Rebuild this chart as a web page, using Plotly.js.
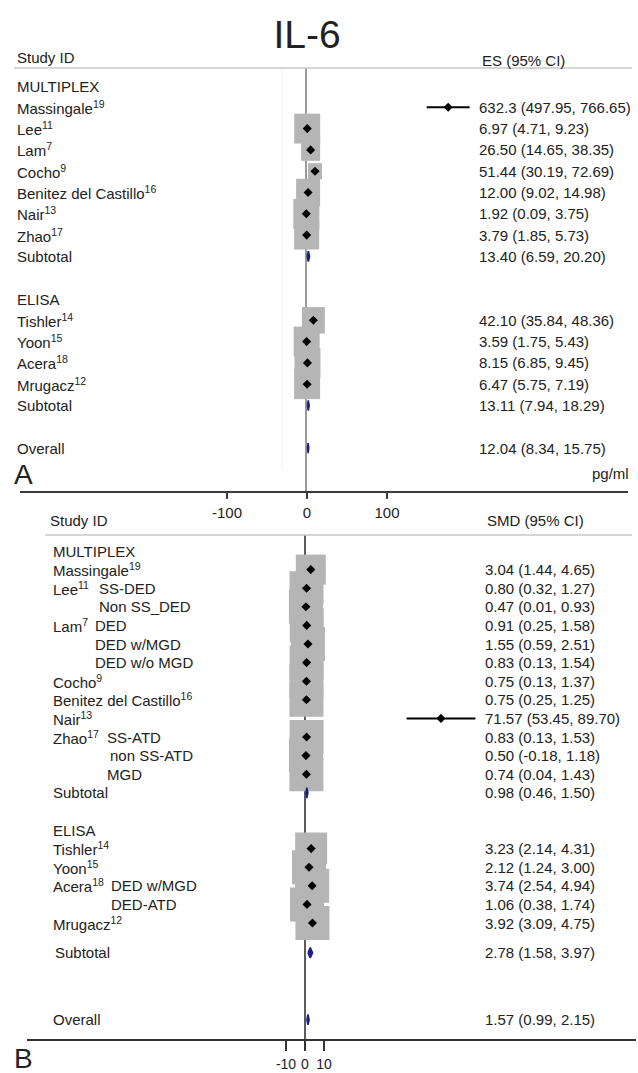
<!DOCTYPE html>
<html><head><meta charset="utf-8">
<script src="https://cdn.plot.ly/plotly-3.0.1.min.js"></script>
<style>html,body{margin:0;padding:0;background:#fff}#chart{width:638px;height:1073px}</style>
</head><body><div id="chart"></div>
<script>
// ================= DATA =================
// Panel A: IL-6 concentration, ES (95% CI), pg/ml
const studiesA_multiplex = ["Massingale<sup>19</sup>","Lee<sup>11</sup>","Lam<sup>7</sup>","Cocho<sup>9</sup>","Benitez del Castillo<sup>16</sup>","Nair<sup>13</sup>","Zhao<sup>17</sup>"];
const esA_multiplex = ["632.3","6.97","26.50","51.44","12.00","1.92","3.79"];
const loA_multiplex = ["497.95","4.71","14.65","30.19","9.02","0.09","1.85"];
const hiA_multiplex = ["766.65","9.23","38.35","72.69","14.98","3.75","5.73"];
const weightA_multiplex = [0, 26, 19, 14, 24, 26, 25];
const subtotalA_multiplex = ["13.40","6.59","20.20"];
const studiesA_elisa = ["Tishler<sup>14</sup>","Yoon<sup>15</sup>","Acera<sup>18</sup>","Mrugacz<sup>12</sup>"];
const esA_elisa = ["42.10","3.59","8.15","6.47"];
const loA_elisa = ["35.84","1.75","6.85","5.75"];
const hiA_elisa = ["48.36","5.43","9.45","7.19"];
const weightA_elisa = [23, 26, 26, 26];
const subtotalA_elisa = ["13.11","7.94","18.29"];
const overallA = ["12.04","8.34","15.75"];
const ticksA = [-100, 0, 100];

// Panel B: SMD (95% CI)
const studiesB_multiplex = ["Massingale<sup>19</sup>","Lee<sup>11</sup>","","Lam<sup>7</sup>","","","Cocho<sup>9</sup>","Benitez del Castillo<sup>16</sup>","Nair<sup>13</sup>","Zhao<sup>17</sup>","",""];
const subgroupsB_multiplex = ["","SS-DED","Non SS_DED","DED","DED w/MGD","DED w/o MGD","","","","SS-ATD","non SS-ATD","MGD"];
const esB_multiplex = ["3.04","0.80","0.47","0.91","1.55","0.83","0.75","0.75","71.57","0.83","0.50","0.74"];
const loB_multiplex = ["1.44","0.32","0.01","0.25","0.59","0.13","0.13","0.25","53.45","0.13","-0.18","0.04"];
const hiB_multiplex = ["4.65","1.27","0.93","1.58","2.51","1.54","1.37","1.25","89.70","1.53","1.18","1.43"];
const weightB_multiplex = [30, 34, 34, 34, 34, 34, 34, 34, 0, 34, 34, 34];
const subtotalB_multiplex = ["0.98","0.46","1.50"];
const studiesB_elisa = ["Tishler<sup>14</sup>","Yoon<sup>15</sup>","Acera<sup>18</sup>","","Mrugacz<sup>12</sup>"];
const subgroupsB_elisa = ["","","DED w/MGD","DED-ATD",""];
const esB_elisa = ["3.23","2.12","3.74","1.06","3.92"];
const loB_elisa = ["2.14","1.24","2.54","0.38","3.09"];
const hiB_elisa = ["4.31","3.00","4.94","1.74","4.75"];
const weightB_elisa = [32, 34, 34, 34, 34];
const subtotalB_elisa = ["2.78","1.58","3.97"];
const overallB = ["1.57","0.99","2.15"];
const ticksB = [-10, 0, 10];

// ================= LAYOUT GEOMETRY =================
const W = 638, H = 1073;
const px = x => x / W;
const py = y => 1 - y / H;
const FONT = "Liberation Sans, Arial, Helvetica, sans-serif";
const TXT = "#222";

const A = {top: 68, bot: 491, row0: 86, step: 21.3};
const B = {top: 535, bot: 1039, row0: 551, step: 18.6};
const rowsA = {mHead: 0, mStart: 1, mSub: 8, eHead: 10, eStart: 11, eSub: 15, overall: 17};
const rowsB = {mHead: 0, mStart: 1, mSub: 13, eHead: 15, eStart: 16, eSub: 21.6, overall: 25.2};
const subIndentB_multiplex = [0, 97, 97, 93, 93, 93, 0, 0, 0, 105, 108, 105];
const subIndentB_elisa = [0, 0, 109, 109, 0];

const traces = [];
const shapes = [];
const ann = [];

function txt(x, yref, y, text, opts) {
  ann.push(Object.assign({xref: 'paper', yref: yref, x: px(x), y: y, text: text, showarrow: false,
    xanchor: 'left', yanchor: 'middle', font: {family: FONT, size: 15, color: TXT}}, opts || {}));
}
function ciText(e, l, h) { return e + " (" + l + ", " + h + ")"; }

function studyMarks(xa, ya, es, lo, hi, rows, lw) {
  const lx = [], ly = [];
  es.forEach((e, i) => { lx.push(+lo[i], +hi[i], null); ly.push(rows[i], rows[i], null); });
  traces.push({type: 'scatter', mode: 'lines', x: lx, y: ly, xaxis: xa, yaxis: ya,
    line: {color: '#000', width: lw}, hoverinfo: 'skip', showlegend: false});
  traces.push({type: 'scatter', mode: 'markers', x: es.map(Number), y: rows, xaxis: xa, yaxis: ya,
    marker: {symbol: 'diamond', size: 7, color: '#000'}, hoverinfo: 'skip', showlegend: false});
}
function boxes(xa, ya, es, rows, w, k) {
  es.forEach((e, i) => {
    if (!w[i]) return;
    shapes.push({type: 'rect', layer: 'below', xref: xa, yref: ya, xsizemode: 'pixel', ysizemode: 'pixel',
      xanchor: +e, yanchor: rows[i], x0: -w[i] / 2, x1: w[i] / 2, y0: -w[i] * k / 2, y1: w[i] * k / 2,
      fillcolor: '#b5b5b5', line: {width: 0}});
  });
}
function pooled(xa, ya, v, row, hh) {
  const e = +v[0], l = +v[1], h = +v[2];
  traces.push({type: 'scatter', mode: 'lines', x: [l, e, h, e, l], y: [row, row - hh, row, row + hh, row],
    xaxis: xa, yaxis: ya, fill: 'toself', fillcolor: '#1e1e8a', line: {color: '#1e1e8a', width: 1.6},
    hoverinfo: 'skip', showlegend: false});
}
const seq = (start, n) => Array.from({length: n}, (_, i) => start + i);

// the labelled pg/ml axis of panel A needs an (empty) trace so that its subplot is drawn
traces.push({type: 'scatter', mode: 'markers', x: [], y: [], xaxis: 'x', yaxis: 'y', hoverinfo: 'skip', showlegend: false});

// ---------- Panel A ----------
const rA_m = seq(rowsA.mStart, studiesA_multiplex.length);
const rA_e = seq(rowsA.eStart, studiesA_elisa.length);
shapes.push({type: 'line', layer: 'below', xref: 'x2', yref: 'y domain', x0: 0, x1: 0, y0: 0, y1: 1,
  line: {color: '#7a7a7a', width: 1.5}});
shapes.push({type: 'line', layer: 'below', xref: 'paper', yref: 'paper', x0: px(282), x1: px(282), y0: py(470), y1: py(69),
  line: {color: '#f1f1f1', width: 1}});
boxes('x2', 'y', esA_multiplex.slice(1), rA_m.slice(1), weightA_multiplex.slice(1), 1.15);
boxes('x2', 'y', esA_elisa, rA_e, weightA_elisa, 1.15);
// outlier study drawn on its own (broken) scale, as in the reference
studyMarks('x3', 'y', esA_multiplex.slice(0, 1), loA_multiplex.slice(0, 1), hiA_multiplex.slice(0, 1), rA_m.slice(0, 1), 2);
studyMarks('x2', 'y', esA_multiplex.slice(1), loA_multiplex.slice(1), hiA_multiplex.slice(1), rA_m.slice(1), 1.5);
studyMarks('x2', 'y', esA_elisa, loA_elisa, hiA_elisa, rA_e, 1.5);
pooled('x2', 'y', subtotalA_multiplex, rowsA.mSub, 0.24);
pooled('x2', 'y', subtotalA_elisa, rowsA.eSub, 0.24);
pooled('x2', 'y', overallA, rowsA.overall, 0.24);

const LA = 15, RA = 477;
txt(LA, 'paper', py(57), 'Study ID', {yref: 'paper'});
txt(480, 'paper', py(61), 'ES (95% CI)', {yref: 'paper'});
txt(LA, 'y', rowsA.mHead, 'MULTIPLEX');
studiesA_multiplex.forEach((s, i) => { txt(LA, 'y', rA_m[i], s); txt(RA, 'y', rA_m[i], ciText(esA_multiplex[i], loA_multiplex[i], hiA_multiplex[i])); });
txt(LA, 'y', rowsA.mSub, 'Subtotal'); txt(RA, 'y', rowsA.mSub, ciText(...subtotalA_multiplex));
txt(LA, 'y', rowsA.eHead, 'ELISA');
studiesA_elisa.forEach((s, i) => { txt(LA, 'y', rA_e[i], s); txt(RA, 'y', rA_e[i], ciText(esA_elisa[i], loA_elisa[i], hiA_elisa[i])); });
txt(LA, 'y', rowsA.eSub, 'Subtotal'); txt(RA, 'y', rowsA.eSub, ciText(...subtotalA_elisa));
txt(LA, 'y', rowsA.overall, 'Overall'); txt(RA, 'y', rowsA.overall, ciText(...overallA));
txt(12, 'paper', py(474), 'A', {yref: 'paper', font: {family: FONT, size: 28, color: TXT}});
txt(631, 'paper', py(473), 'pg/ml', {yref: 'paper', xanchor: 'right'});
shapes.push({type: 'line', xref: 'paper', yref: 'paper', x0: px(14), x1: px(632), y0: py(68), y1: py(68),
  line: {color: '#c9c9c9', width: 1.5}});

// ---------- Panel B ----------
const rB_m = seq(rowsB.mStart, studiesB_multiplex.length);
const rB_e = seq(rowsB.eStart, studiesB_elisa.length);
shapes.push({type: 'line', layer: 'below', xref: 'x4', yref: 'y2 domain', x0: 0, x1: 0, y0: 0, y1: 1,
  line: {color: '#333', width: 1.6}});
boxes('x4', 'y2', esB_multiplex, rB_m, weightB_multiplex, 1.0);
boxes('x4', 'y2', esB_elisa, rB_e, weightB_elisa, 1.0);
studyMarks('x4', 'y2', esB_multiplex, loB_multiplex, hiB_multiplex, rB_m, 2);
studyMarks('x4', 'y2', esB_elisa, loB_elisa, hiB_elisa, rB_e, 2);
pooled('x4', 'y2', subtotalB_multiplex, rowsB.mSub, 0.28);
pooled('x4', 'y2', subtotalB_elisa, rowsB.eSub, 0.28);
pooled('x4', 'y2', overallB, rowsB.overall, 0.28);

const LB = 51, RB = 483, FB = 15;
const fB = {family: FONT, size: FB, color: TXT};
txt(48, 'paper', py(520), 'Study ID', {yref: 'paper', font: fB});
txt(485, 'paper', py(520), 'SMD (95% CI)', {yref: 'paper', font: fB});
txt(LB, 'y2', rowsB.mHead, 'MULTIPLEX', {font: fB});
studiesB_multiplex.forEach((s, i) => {
  if (s) txt(LB, 'y2', rB_m[i], s, {font: fB});
  if (subgroupsB_multiplex[i]) txt(subIndentB_multiplex[i], 'y2', rB_m[i], subgroupsB_multiplex[i], {font: fB});
  txt(RB, 'y2', rB_m[i], ciText(esB_multiplex[i], loB_multiplex[i], hiB_multiplex[i]), {font: fB});
});
txt(LB, 'y2', rowsB.mSub, 'Subtotal', {font: fB}); txt(RB, 'y2', rowsB.mSub, ciText(...subtotalB_multiplex), {font: fB});
txt(LB, 'y2', rowsB.eHead, 'ELISA', {font: fB});
studiesB_elisa.forEach((s, i) => {
  if (s) txt(LB, 'y2', rB_e[i], s, {font: fB});
  if (subgroupsB_elisa[i]) txt(subIndentB_elisa[i], 'y2', rB_e[i], subgroupsB_elisa[i], {font: fB});
  txt(RB, 'y2', rB_e[i], ciText(esB_elisa[i], loB_elisa[i], hiB_elisa[i]), {font: fB});
});
txt(53, 'y2', rowsB.eSub, 'Subtotal', {font: fB}); txt(RB, 'y2', rowsB.eSub, ciText(...subtotalB_elisa), {font: fB});
txt(LB, 'y2', rowsB.overall, 'Overall', {font: fB}); txt(RB, 'y2', rowsB.overall, ciText(...overallB), {font: fB});
txt(12, 'paper', py(1058), 'B', {yref: 'paper', font: {family: FONT, size: 28, color: TXT}});
shapes.push({type: 'line', xref: 'paper', yref: 'paper', x0: px(45), x1: px(632), y0: py(535), y1: py(535),
  line: {color: '#c9c9c9', width: 1.5}});

// ---------- axes ----------
function linRange(l, r, zeroPx, ppu) { return [(l - zeroPx) / ppu, (r - zeroPx) / ppu]; }
const xdA = [px(20), px(628)], xdB = [px(27), px(636)];
const hidden = {visible: false, showgrid: false, zeroline: false, fixedrange: true};
const layout = {
  width: W, height: H, margin: {l: 0, r: 0, t: 0, b: 0},
  paper_bgcolor: '#fff', plot_bgcolor: 'rgba(0,0,0,0)', showlegend: false,
  title: {text: 'IL-6', x: px(307), xanchor: 'center', y: py(34), yanchor: 'middle',
    font: {family: FONT, size: 39, color: TXT}},
  xaxis: {domain: xdA, anchor: 'y', range: linRange(20, 628, 307, 0.8),
    tickmode: 'array', tickvals: ticksA, ticktext: ticksA.map(String),
    showgrid: false, zeroline: false, showline: true, linecolor: '#3a3a3a', linewidth: 2,
    ticks: 'outside', ticklen: 6, tickwidth: 1.5, tickcolor: '#3a3a3a', ticklabelstandoff: 1,
    tickfont: {family: FONT, size: 15, color: TXT}, fixedrange: true},
  xaxis2: Object.assign({domain: xdA, anchor: 'y', overlaying: 'x', range: linRange(20, 628, 306, 0.175)}, hidden),
  xaxis3: Object.assign({domain: xdA, anchor: 'y', overlaying: 'x', range: linRange(20, 628, 347, 0.16)}, hidden),
  xaxis4: {domain: xdB, anchor: 'y2', range: linRange(27, 636, 305, 1.9),
    tickmode: 'array', tickvals: ticksB, ticktext: ticksB.map(String),
    showgrid: false, zeroline: false, showline: true, linecolor: '#333', linewidth: 2,
    ticks: 'outside', ticklen: 10, tickwidth: 1.5, tickcolor: '#333', ticklabelstandoff: 1,
    tickfont: {family: FONT, size: 14, color: TXT}, fixedrange: true},
  yaxis: Object.assign({domain: [py(A.bot), py(A.top)],
    range: [(A.bot - A.row0) / A.step, (A.top - A.row0) / A.step]}, hidden),
  yaxis2: Object.assign({domain: [py(B.bot), py(B.top)],
    range: [(B.bot - B.row0) / B.step, (B.top - B.row0) / B.step]}, hidden),
  shapes: shapes, annotations: ann
};
Plotly.newPlot('chart', traces, layout, {staticPlot: true, displayModeBar: false});
</script></body></html>
